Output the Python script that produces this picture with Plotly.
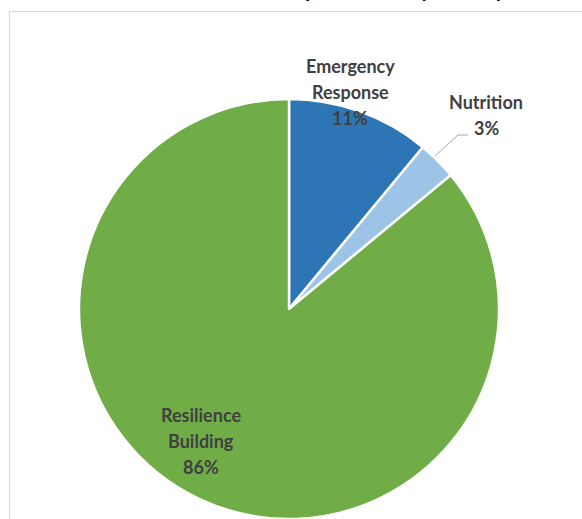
import plotly.graph_objects as go

categories = ["Emergency Response", "Nutrition", "Resilience Building"]
values = [11, 3, 86]
colors = ["#2E75B6", "#9DC3E6", "#70AD47"]
label_lines = [["Emergency", "Response", "11%"], ["Nutrition", "3%"], ["Resilience", "Building", "86%"]]
title_text = "Planned % of food requirements by activity"

W, H = 582, 519

fig = go.Figure(go.Pie(
    labels=categories, values=values, sort=False, direction="clockwise", rotation=0,
    marker=dict(colors=colors, line=dict(color="white", width=2.5)),
    textinfo="none", hoverinfo="label+percent", showlegend=False,
    domain=dict(x=[79 / W, 499 / W], y=[0, 1 - 99 / H]),
))

def px(x):
    return x / W

def py(y):
    return 1 - y / H

# label anchor positions (pixel centres of first line) and line spacing
label_pos = [(350, 66), (486, 102), (201, 415)]
annotations = []
for lines, (lx, ly) in zip(label_lines, label_pos):
    for i, t in enumerate(lines):
        annotations.append(dict(
            x=px(lx), y=py(ly + 26 * i), xref="paper", yref="paper", text="<b>" + t + "</b>",
            showarrow=False, xanchor="center", yanchor="middle",
            font=dict(family="Lato", size=18, color="#404040"),
        ))

annotations.append(dict(
    x=px(305), y=py(-12), xref="paper", yref="paper", text="<b>" + title_text + "</b>",
    showarrow=False, xanchor="center", yanchor="middle",
    font=dict(family="Lato", size=21, color="#000000"),
))

shapes = [
    dict(type="rect", xref="paper", yref="paper", x0=px(9.5), x1=px(600), y0=py(600), y1=py(11.5),
         line=dict(color="#D9D9D9", width=1.2), fillcolor="rgba(0,0,0,0)", layer="below"),
    dict(type="path", xref="paper", yref="paper",
         path=f"M {px(435)} {py(156)} L {px(458)} {py(135)} L {px(468)} {py(135)}",
         line=dict(color="#A6A6A6", width=1)),
]

fig.update_layout(
    width=W, height=H, margin=dict(l=0, r=0, t=0, b=0),
    paper_bgcolor="white", plot_bgcolor="white",
    annotations=annotations, shapes=shapes,
)

fig.write_html("out.html")
